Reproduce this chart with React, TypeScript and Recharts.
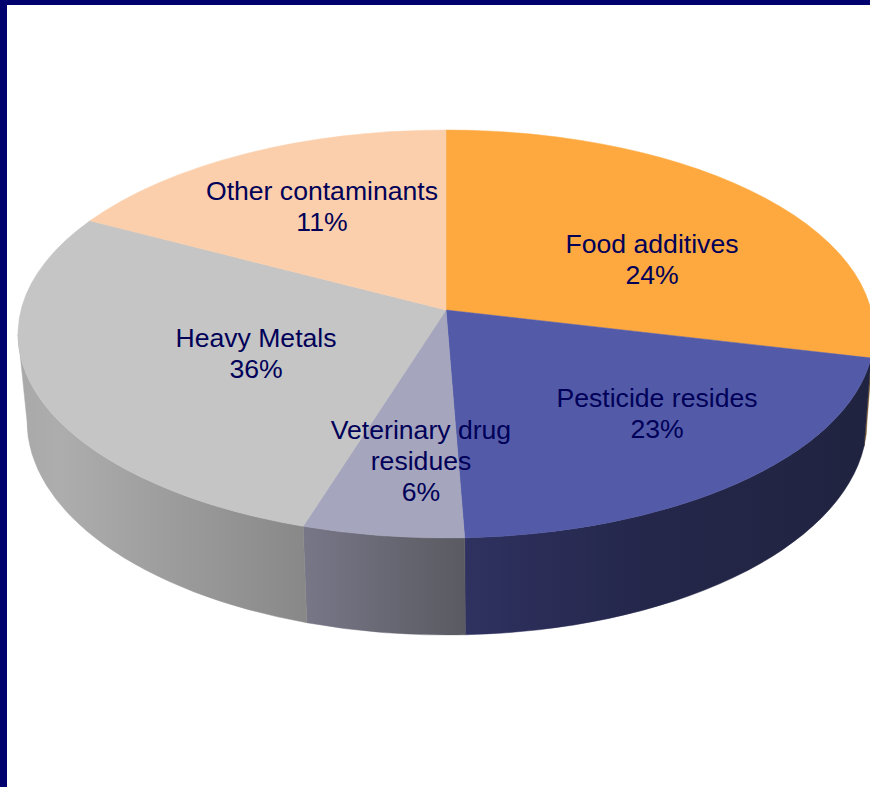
import React from "react";
import { PieChart, Pie } from "recharts";

const categories = ["Food additives", "Pesticide resides", "Veterinary drug residues", "Heavy Metals", "Other contaminants"];
const shares = [24, 23, 6, 36, 11];
const labelLines = [["Food additives"], ["Pesticide resides"], ["Veterinary drug", "residues"], ["Heavy Metals"], ["Other contaminants"]];
const topColors = ["#FDA93F", "#535BA9", "#A5A5BD", "#C5C5C5", "#FBCFAB"];
const wallShades: [number, string][][] = [
  [[0, "#7a5a2c"], [1, "#7a5a2c"]],
  [[0, "#2f3160"], [0.45, "#24274a"], [1, "#20233f"]],
  [[0, "#777788"], [1, "#5a5a62"]],
  [[0, "#a9a9a9"], [0.15, "#adadad"], [1, "#888888"]],
  [[0, "#888888"], [1, "#888888"]],
];

const CX = 446;
const CY = 310;
const RX = 428;
const RY = 204;
const TOP_SHIFT = 24; // ellipse centre sits below the pie's apex
const BASE = { dx: 1, dy: 111, rx: 420, ry: 214 };

// Excel's 3-D view distorts slice angles: [share angle, angle on the drawn ellipse]
const warpKnots: [number, number][] = [[0, 0], [86.4, 96.75], [169.2, 177.5], [190.8, 199.5], [320.4, 303.7], [360, 360]];

const labelCentres: [number, number][] = [[206, -57], [211, 97], [-25, 129], [-190, 37], [-124, -110]];

const FONT = 26.6;
const LINE = 31;

function warp(theta: number) {
  for (let i = 1; i < warpKnots.length; i++) {
    const [a0, b0] = warpKnots[i - 1];
    const [a1, b1] = warpKnots[i];
    if (theta <= a1 + 1e-6) return b0 + ((theta - a0) / (a1 - a0)) * (b1 - b0);
  }
  return 360;
}
const rad = (d: number) => (d * Math.PI) / 180;
const topPt = (p: number): [number, number] => [CX + RX * Math.sin(rad(p)), CY + TOP_SHIFT - RY * Math.cos(rad(p))];
const basePt = (p: number): [number, number] => [CX + BASE.dx + BASE.rx * Math.sin(rad(p)), CY + BASE.dy - BASE.ry * Math.cos(rad(p))];

function Slice(props: any) {
  const { startAngle, endAngle, fill, index, name } = props;
  const idx = index ?? categories.indexOf(name);
  const p1 = warp(90 - startAngle);
  const p2 = warp(90 - endAngle);
  const [sx, sy] = topPt(p1);
  const [ex, ey] = topPt(p2);
  const large = p2 - p1 > 180 ? 1 : 0;
  const top = `M${CX},${CY} L${sx},${sy} A${RX},${RY} 0 ${large} 1 ${ex},${ey} Z`;
  const a = Math.max(p1, 90);
  const b = Math.min(p2, 270);
  let wall: React.ReactNode = null;
  if (b > a) {
    const ta = topPt(a);
    const tb = topPt(b);
    const ba = basePt(a);
    const bb = basePt(b);
    const d = `M${ta[0]},${ta[1]} A${RX},${RY} 0 0 1 ${tb[0]},${tb[1]} L${bb[0]},${bb[1]} A${BASE.rx},${BASE.ry} 0 0 0 ${ba[0]},${ba[1]} Z`;
    const gid = `wall-${idx}`;
    wall = (
      <g>
        <defs>
          <linearGradient id={gid} gradientUnits="userSpaceOnUse" x1={Math.min(tb[0], bb[0])} x2={Math.max(ta[0], ba[0])} y1={0} y2={0}>
            {wallShades[idx].map(([o, c]) => (
              <stop key={o} offset={o} stopColor={c} />
            ))}
          </linearGradient>
        </defs>
        <path d={d} fill={`url(#${gid})`} stroke={`url(#${gid})`} strokeWidth={0.5} />
      </g>
    );
  }
  return (
    <g>
      {wall}
      <path d={top} fill={fill} stroke={fill} strokeWidth={0.5} />
    </g>
  );
}

function SliceLabel(props: any) {
  const { index, value } = props;
  const [ox, oy] = labelCentres[index];
  const lines = [...labelLines[index], `${value}%`];
  return (
    <text x={CX + ox} y={CY + oy} textAnchor="middle" fontFamily="'Liberation Sans', Arial, sans-serif" fontSize={FONT} fill="#000058">
      {lines.map((l, i) => (
        <tspan key={i} x={CX + ox} y={CY + oy + i * LINE}>
          {l}
        </tspan>
      ))}
    </text>
  );
}

const data = categories.map((name, i) => ({ name, value: shares[i], fill: topColors[i] }));

export default function App() {
  return (
    <div style={{ position: "absolute", left: 0, top: 0, width: 870, height: 787, background: "#fff", overflow: "hidden" }}>
      <PieChart width={870} height={787} margin={{ top: 0, right: 0, bottom: 0, left: 0 }}>
        <Pie
          data={data}
          dataKey="value"
          nameKey="name"
          cx={CX}
          cy={CY}
          innerRadius={0}
          outerRadius={RX}
          startAngle={90}
          endAngle={-270}
          paddingAngle={0}
          stroke="none"
          shape={Slice}
          label={SliceLabel}
          labelLine={false}
          isAnimationActive={false}
        />
      </PieChart>
      <div style={{ position: "absolute", left: 0, top: 0, width: 870, height: 5, background: "#00006e" }} />
      <div style={{ position: "absolute", left: 0, top: 0, width: 7, height: 787, background: "#00006e" }} />
    </div>
  );
}
